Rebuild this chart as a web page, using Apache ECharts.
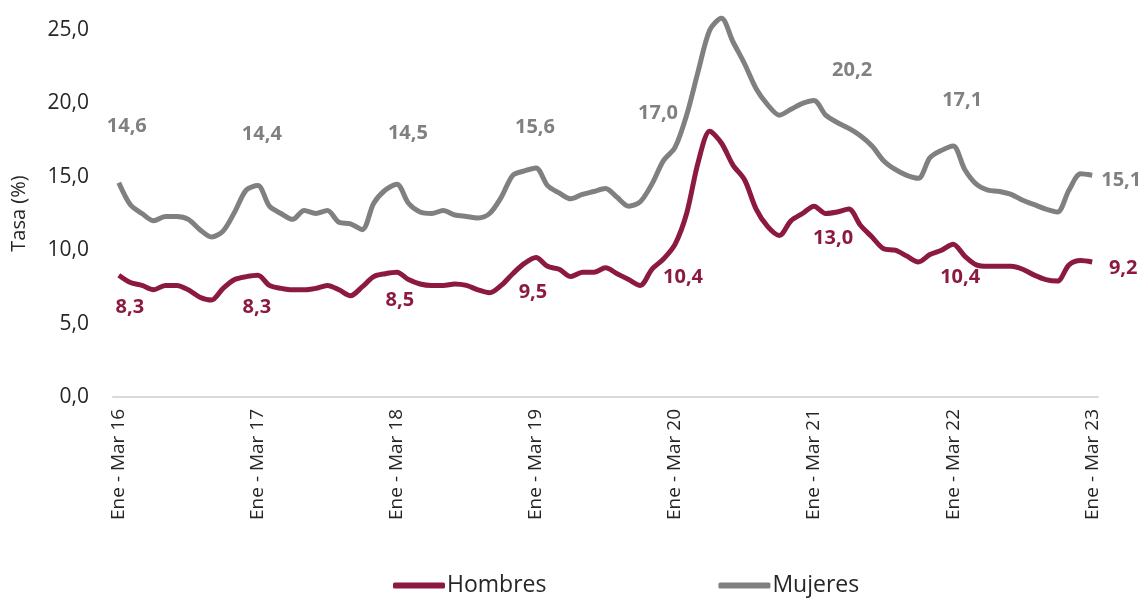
<!DOCTYPE html>
<html>
<head>
<meta charset="utf-8">
<script src="https://cdn.jsdelivr.net/npm/echarts@6/dist/echarts.min.js"></script>
<style>
  html, body { margin: 0; padding: 0; background: #fff; }
  #main { width: 1143px; height: 599px; }
</style>
</head>
<body>
<div id="main"></div>
<script>
// meses para armar los trimestres móviles
const meses = ['Ene', 'Feb', 'Mar', 'Abr', 'May', 'Jun', 'Jul', 'Ago', 'Sep', 'Oct', 'Nov', 'Dic'];

// tasas (Ene-Mar 16 ... Ene-Mar 23)
const hombres = [
    8.3, 7.8, 7.6, 7.3, 7.6, 7.6, 7.3, 6.8, 6.6, 7.4, 8.0, 8.2,
    8.3, 7.6, 7.4, 7.3, 7.3, 7.4, 7.6, 7.3, 6.9, 7.5, 8.2, 8.4,
    8.5, 8.0, 7.7, 7.6, 7.6, 7.7, 7.6, 7.3, 7.1, 7.6, 8.4, 9.1,
    9.5, 8.9, 8.7, 8.2, 8.5, 8.5, 8.8, 8.4, 8.0, 7.6, 8.7, 9.4,
    10.4, 12.5, 16.0, 18.1, 17.3, 15.8, 14.8, 12.8, 11.6, 11.0, 12.0, 12.5,
    13.0, 12.5, 12.6, 12.8, 11.7, 10.9, 10.1, 10.0, 9.6, 9.2, 9.7, 10.0,
    10.4, 9.6, 9.0, 8.9, 8.9, 8.9, 8.7, 8.3, 8.0, 7.9, 9.0, 9.3,
    9.2
];
const mujeres = [
    14.6, 13.1, 12.5, 12.0, 12.3, 12.3, 12.1, 11.4, 10.9, 11.3, 12.6, 14.1,
    14.4, 13.0, 12.5, 12.1, 12.7, 12.5, 12.7, 11.9, 11.8, 11.4, 13.2, 14.1,
    14.5, 13.2, 12.6, 12.5, 12.7, 12.4, 12.3, 12.2, 12.5, 13.6, 15.1, 15.4,
    15.6, 14.4, 13.9, 13.5, 13.8, 14.0, 14.2, 13.6, 13.0, 13.3, 14.5, 16.1,
    17.0, 19.2, 22.2, 25.0, 25.8, 24.2, 22.7, 21.0, 19.9, 19.2, 19.6, 20.0,
    20.2, 19.2, 18.7, 18.3, 17.8, 17.1, 16.1, 15.5, 15.1, 14.9, 16.3, 16.8,
    17.1, 15.5, 14.5, 14.1, 14.0, 13.8, 13.4, 13.1, 12.8, 12.6, 14.1, 15.2,
    15.1
];

// puntos con etiqueta y su desplazamiento [dx, dy]
const etiquetasH = {0: [11, 32], 12: [-1, 32], 24: [3, 28], 36: [-3, 35], 48: [8, 33], 60: [19, 32], 72: [7, 33], 84: [31, 6]};
const etiquetasM = {0: [8, -56], 12: [4, -51], 24: [11, -51], 36: [-1, -41], 48: [-17, -34], 60: [38, -30], 72: [9, -46], 84: [29, 5]};

const colorH = '#8c1a3f';
const colorM = '#808080';

let categorias = [];
for (let i = 0; i < hombres.length; i++) {
    let ini = i % 12;
    let fin = (i + 2) % 12;
    let anio = 16 + Math.floor((i + 2) / 12);
    categorias.push(meses[ini] + ' - ' + meses[fin] + ' ' + anio);
}

function fmt(v) {
    return v.toFixed(1).replace('.', ',');
}

function armarDatos(valores, etiquetas, color) {
    return valores.map((v, i) => {
        if (etiquetas[i] === undefined) return v;
        return {
            value: v,
            label: {
                show: true,
                position: 'inside',
                offset: etiquetas[i],
                formatter: p => fmt(p.value),
                color: color,
                fontSize: 20,
                fontWeight: 'bold',
                fontFamily: 'Open Sans'
            }
        };
    });
}

var myChart = echarts.init(document.getElementById('main'));

let option = {
    animation: false,
    grid: {left: 113, right: 45, top: 30, bottom: 202},
    legend: {
        left: 388,
        top: 569,
        itemGap: 172,
        itemWidth: 52,
        itemHeight: 6,
        textStyle: {fontSize: 23, color: '#262626', fontFamily: 'Open Sans', padding: [0, 0, 0, -3]},
        data: [
            {name: 'Hombres', icon: 'roundRect', itemStyle: {color: colorH}},
            {name: 'Mujeres', icon: 'roundRect', itemStyle: {color: colorM}}
        ]
    },
    xAxis: {
        type: 'category',
        data: categorias,
        boundaryGap: true,
        axisLine: {lineStyle: {color: '#d9d9d9', width: 2}},
        axisTick: {show: false},
        axisLabel: {
            interval: 11,
            rotate: 90,
            margin: 12,
            fontSize: 19,
            color: '#262626',
            fontFamily: 'Open Sans'
        }
    },
    yAxis: {
        type: 'value',
        min: 0,
        max: 25,
        interval: 5,
        name: 'Tasa (%)',
        nameLocation: 'middle',
        nameGap: 84,
        nameTextStyle: {fontSize: 20, color: '#262626', fontFamily: 'Open Sans'},
        axisLine: {show: false},
        axisTick: {show: false},
        splitLine: {show: false},
        axisLabel: {
            formatter: v => fmt(v),
            fontSize: 21,
            margin: 24,
            color: '#262626',
            fontFamily: 'Open Sans'
        }
    },
    series: [
        {
            name: 'Hombres',
            type: 'line',
            smooth: 0.3,
            clip: false,
            symbol: 'circle',
            symbolSize: 0,
            showAllSymbol: true,
            lineStyle: {color: colorH, width: 5},
            itemStyle: {color: colorH},
            data: armarDatos(hombres, etiquetasH, colorH)
        },
        {
            name: 'Mujeres',
            type: 'line',
            smooth: 0.3,
            clip: false,
            symbol: 'circle',
            symbolSize: 0,
            showAllSymbol: true,
            lineStyle: {color: colorM, width: 5},
            itemStyle: {color: colorM},
            data: armarDatos(mujeres, etiquetasM, colorM)
        }
    ]
};

myChart.setOption(option);
</script>
</body>
</html>
